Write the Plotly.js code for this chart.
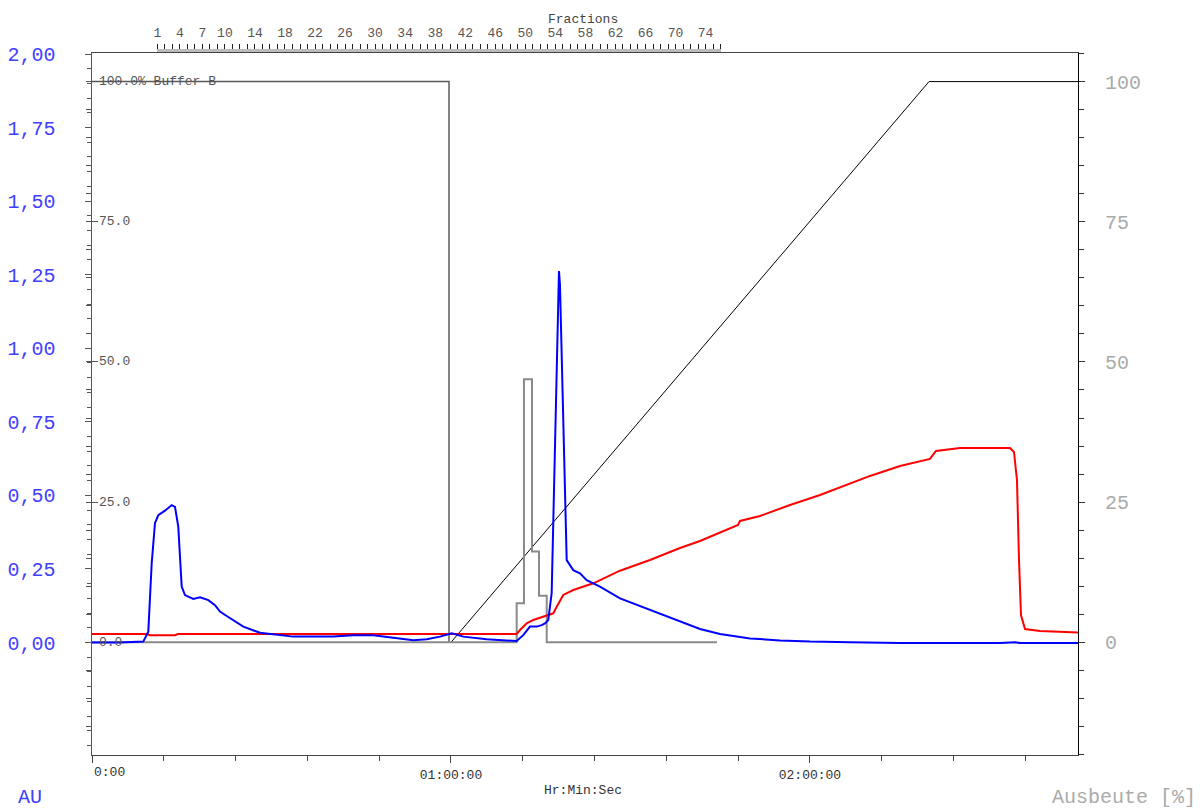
<!DOCTYPE html>
<html>
<head>
<meta charset="utf-8">
<script src="https://cdn.plot.ly/plotly-3.0.1.min.js"></script>
<style>html,body{margin:0;padding:0;background:#fff;}#chart{width:1200px;height:808px;}</style>
</head>
<body>
<div id="chart"></div>
<script>
// ---- Data (time in minutes) ----
// UV absorbance (AU, left axis)
const blueT  = [0, 4.68, 8.57, 9.41, 9.98, 10.53, 11.08, 12.2, 13.32, 13.87, 14.42, 14.71, 14.99, 15.54, 16.93, 18.05, 19.44, 20.56, 21.39, 22.51, 25.29, 28.08, 31.42, 33.65, 40.33, 43.68, 47.02, 49.26, 51.48, 53.7, 55.94, 58.16, 60.12, 62.06, 65.97, 70.98, 72.08, 73.2, 74.32, 75.16, 75.71, 76.26, 76.83, 77.1, 77.38, 77.67, 77.94, 78.05, 78.22, 78.5, 78.77, 79.17, 79.34, 80.44, 81.56, 82.68, 84.9, 88.25, 93.26, 98.28, 101.62, 104.96, 109.98, 114.99, 120.0, 126.7, 135.05, 151.77, 154.27, 155.1, 164.8];
const blueAU = [0, 0, 0.003, 0.037, 0.27, 0.406, 0.433, 0.448, 0.467, 0.461, 0.394, 0.27, 0.19, 0.161, 0.148, 0.154, 0.144, 0.127, 0.105, 0.09, 0.054, 0.033, 0.025, 0.02, 0.02, 0.025, 0.025, 0.02, 0.013, 0.008, 0.011, 0.02, 0.031, 0.02, 0.011, 0.005, 0.025, 0.054, 0.054, 0.059, 0.065, 0.076, 0.168, 0.394, 0.62, 0.848, 1.164, 1.2625, 1.215, 0.96, 0.733, 0.45, 0.28, 0.246, 0.235, 0.212, 0.19, 0.15, 0.11, 0.07, 0.046, 0.029, 0.014, 0.007, 0.003, 0.001, -0.002, -0.002, 0.001, -0.002, -0.002];

// Red signal (right axis scale)
const redT   = [0, 9.19, 9.69, 13.87, 14.37, 70.98, 71.54, 72.66, 73.76, 76.0, 77.1, 77.67, 78.77, 80.44, 83.79, 88.25, 93.26, 98.28, 101.62, 107.97, 108.31, 111.65, 116.67, 121.68, 126.7, 130.04, 135.05, 140.06, 140.56, 141.06, 145.08, 153.43, 154.1, 154.6, 154.94, 155.27, 155.94, 158.45, 164.8];
const redVal = [1.48, 1.48, 1.25, 1.25, 1.48, 1.48, 2.19, 3.39, 3.98, 4.69, 5.17, 6.35, 8.44, 9.33, 10.52, 12.77, 14.68, 16.82, 18.07, 20.92, 21.64, 22.53, 24.49, 26.28, 28.24, 29.67, 31.45, 32.7, 33.41, 34.12, 34.66, 34.66, 33.95, 28.95, 14.68, 4.87, 2.37, 2.02, 1.75];

// Grey fraction step signal (right axis scale)
const fracT   = [0, 70.98, 72.2, 73.54, 74.71, 76.0, 104.47];
const fracVal = [0, 6.96, 46.9, 16.2, 8.3, 0, 0];

// Buffer B step (grey) and gradient (black), %
const bufferT   = [0, 59.67, 59.67];
const bufferVal = [100, 100, 0];
const gradT     = [60.0, 139.9, 164.8];
const gradVal   = [0, 100, 100];

// Tick labels
const leftTickVals   = [0, 0.25, 0.5, 0.75, 1.0, 1.25, 1.5, 1.75, 2.0];
const leftTickLabels = ['0,00', '0,25', '0,50', '0,75', '1,00', '1,25', '1,50', '1,75', '2,00'];
const rightTickVals   = [0, 25, 50, 75, 100];
const rightTickLabels = ['0', '25', '50', '75', '100'];
const innerTickLabels = ['0.0', '25.0', '50.0', '75.0', '100.0% Buffer B'];
const timeTickVals   = [0, 60, 120];
const timeTickLabels = ['', '01:00:00', '02:00:00'];
const fractionLabels = [1, 4, 7, 10, 14, 18, 22, 26, 30, 34, 38, 42, 46, 50, 54, 58, 62, 66, 70, 74];

const MONO = "'Liberation Mono', 'Courier New', monospace";

const traces = [
  {x: bufferT, y: bufferVal, yaxis: 'y2', mode: 'lines', line: {color: '#5a5a5a', width: 1.5}, hoverinfo: 'skip'},
  {x: gradT, y: gradVal, yaxis: 'y2', mode: 'lines', line: {color: '#000000', width: 1}, hoverinfo: 'skip'},
  {x: fracT, y: fracVal, yaxis: 'y2', mode: 'lines', line: {color: '#8a8a8a', width: 2, shape: 'hv'}, hoverinfo: 'skip'},
  {x: redT, y: redVal, yaxis: 'y2', mode: 'lines', line: {color: '#ff0000', width: 2}, hoverinfo: 'skip'},
  {x: [null], y: [null], yaxis: 'y3', mode: 'lines', hoverinfo: 'skip'},
  {x: blueT, y: blueAU, yaxis: 'y4', mode: 'lines', line: {color: '#0000ff', width: 2}, hoverinfo: 'skip'},
  {x: [null], y: [null], xaxis: 'x2', yaxis: 'y', mode: 'lines', hoverinfo: 'skip'}
];

const ydom = [0, 702 / 705];
const annotations = [
  {text: 'Fractions', xref: 'paper', yref: 'paper', x: 0.498, y: (755 - 19) / 705,
   xanchor: 'center', yanchor: 'middle', showarrow: false, font: {family: MONO, size: 13, color: '#444'}},
  {text: 'Hr:Min:Sec', xref: 'paper', yref: 'paper', x: 0.498, y: (755 - 790) / 705,
   xanchor: 'center', yanchor: 'middle', showarrow: false, font: {family: MONO, size: 13, color: '#333'}},
  {text: '0:00', xref: 'x', yref: 'paper', x: 0, y: (755 - 772) / 705,
   xanchor: 'left', yanchor: 'middle', showarrow: false, font: {family: MONO, size: 13, color: '#333'}},
  {text: 'AU', xref: 'paper', yref: 'paper', x: (30 - 92) / 986, y: (755 - 797) / 705,
   xanchor: 'center', yanchor: 'middle', showarrow: false, font: {family: MONO, size: 20, color: '#4040ff'}},
  {text: 'Ausbeute [%]', xref: 'paper', yref: 'paper', x: (1124 - 92) / 986, y: (755 - 797) / 705,
   xanchor: 'center', yanchor: 'middle', showarrow: false, font: {family: MONO, size: 20, color: '#aaaaaa'}}
];
// Inner Buffer B scale labels placed on the % axis
rightTickVals.forEach((v, i) => {
  annotations.push({text: innerTickLabels[i], xref: 'paper', yref: 'y2', x: 0, y: v,
    xanchor: 'left', yanchor: 'middle', xshift: 5, showarrow: false,
    font: {family: MONO, size: 13, color: '#555'}});
});

const layout = {
  width: 1200, height: 808,
  margin: {l: 92, r: 122, t: 50, b: 53, pad: 0},
  paper_bgcolor: '#ffffff', plot_bgcolor: 'rgba(0,0,0,0)',
  showlegend: false,
  font: {family: MONO, size: 13, color: '#333'},
  xaxis: {
    range: [0, 164.8], domain: [0, 1], showgrid: false, zeroline: false,
    showline: true, linecolor: '#444', linewidth: 1, mirror: true,
    tickmode: 'array', tickvals: timeTickVals, ticktext: timeTickLabels,
    ticks: 'outside', ticklen: 7, tickcolor: '#444',
    minor: {ticks: 'outside', dtick: 12, tick0: 0, ticklen: 5, tickcolor: '#444'},
    tickfont: {family: MONO, size: 13, color: '#333'}
  },
  xaxis2: {
    domain: [(157.3 - 92) / 986, (720.6 - 92) / 986], anchor: 'free', position: 1, side: 'top',
    range: [1, 76], showgrid: false, zeroline: false,
    showline: true, linecolor: '#bbbbbb', linewidth: 3,
    tickmode: 'array', tickvals: fractionLabels, ticktext: fractionLabels.map(String),
    ticks: 'outside', ticklen: 5, tickcolor: '#222', tickwidth: 1,
    minor: {ticks: 'outside', dtick: 1, tick0: 1, ticklen: 5, tickcolor: '#222', tickwidth: 1},
    ticklabelstandoff: 2,
    tickfont: {family: MONO, size: 13, color: '#555'}
  },
  yaxis: {
    domain: ydom, range: [-0.3823, 2.0034], showgrid: false, zeroline: false,
    showline: true, linecolor: '#555', linewidth: 1.5,
    tickmode: 'array', tickvals: leftTickVals, ticktext: leftTickLabels,
    ticks: 'outside', ticklen: 6, tickcolor: '#555',
    minor: {ticks: 'outside', dtick: 0.05, tick0: 0, ticklen: 4, tickcolor: '#555'},
    ticklabelstandoff: 25,
    tickfont: {family: MONO, size: 20, color: '#4040ff'}
  },
  yaxis2: {
    overlaying: 'y', side: 'right', anchor: 'x',
    range: [-20.1, 105.1], showgrid: false, zeroline: false,
    showline: true, linecolor: '#000', linewidth: 1,
    tickmode: 'array', tickvals: rightTickVals, ticktext: rightTickLabels,
    ticks: 'outside', ticklen: 6, tickcolor: '#333',
    minor: {ticks: 'outside', dtick: 5, tick0: 0, ticklen: 5, tickcolor: '#333'},
    ticklabelstandoff: 16,
    tickfont: {family: MONO, size: 20, color: '#aaaaaa'}
  },
  yaxis3: {
    overlaying: 'y', side: 'left', anchor: 'x',
    range: [-20.1, 105.1], showgrid: false, zeroline: false, showline: false,
    tickmode: 'array', tickvals: rightTickVals, showticklabels: false,
    ticks: 'inside', ticklen: 6, tickcolor: '#555',
    minor: {ticks: 'outside', dtick: 5, tick0: 0, ticklen: 5, tickcolor: '#555'}
  },
  yaxis4: {
    overlaying: 'y', side: 'left', anchor: 'x', visible: false,
    range: [-0.3823, 2.0034]
  },
  annotations: annotations
};

Plotly.newPlot('chart', traces, layout, {staticPlot: true, displayModeBar: false});
</script>
</body>
</html>
